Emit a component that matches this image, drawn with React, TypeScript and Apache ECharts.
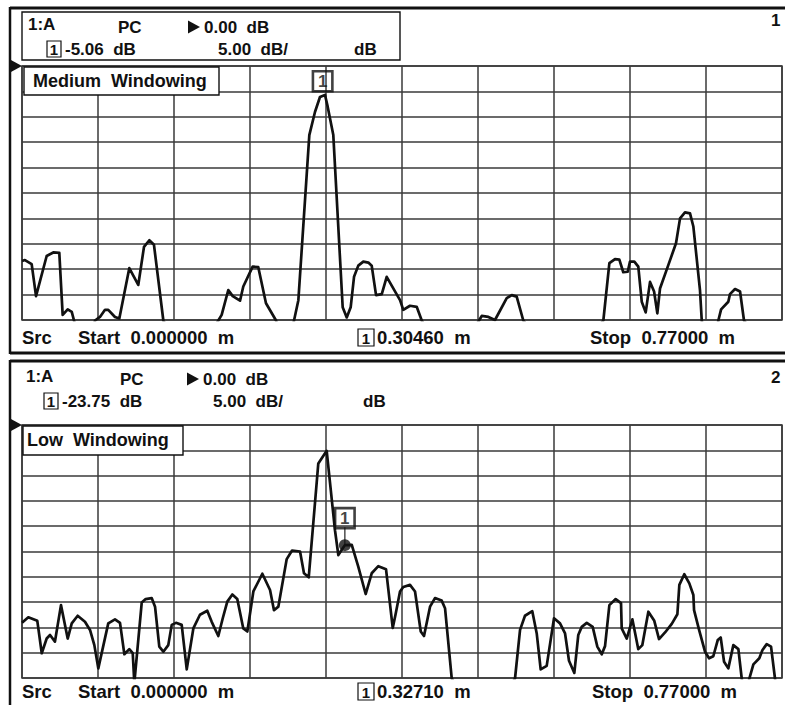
import React, { useEffect, useRef } from "react";
import * as echarts from "echarts";

// ---------- data (distance in metres, level in dB) ----------
const topDistance = [
  0.0, 0.003, 0.0098, 0.0142, 0.025, 0.0317, 0.0378, 0.0412, 0.0463, 0.0504, 0.0527, 0.0633,
  0.074, 0.079, 0.0841, 0.0874, 0.0942, 0.0986, 0.1087, 0.1178, 0.1236, 0.129, 0.1337, 0.1432,
  0.1702, 0.1989, 0.2023, 0.209, 0.2135, 0.2209, 0.2242, 0.2337, 0.2394, 0.2472, 0.2574, 0.2665,
  0.2756, 0.28, 0.2911, 0.2969, 0.3019, 0.307, 0.3097, 0.3154, 0.3249, 0.329, 0.333, 0.3364,
  0.3407, 0.3458, 0.3509, 0.3543, 0.3587, 0.3645, 0.3695, 0.383, 0.3863, 0.3931, 0.3999, 0.405,
  0.4336, 0.463, 0.4658, 0.4725, 0.4792, 0.4911, 0.4962, 0.5012, 0.5079, 0.5481, 0.589, 0.5951,
  0.6008, 0.6052, 0.6092, 0.6137, 0.616, 0.6204, 0.6244, 0.6279, 0.6319, 0.6363, 0.6404, 0.6437,
  0.6464, 0.6548, 0.6626, 0.6667, 0.6717, 0.6768, 0.6802, 0.6869, 0.6887, 0.6971, 0.7055, 0.7083,
  0.7156, 0.7173, 0.7224, 0.7275, 0.7315, 0.77,
];
const topLevel = [
  -38.4, -38.2, -39.0, -45.3, -37.4, -36.7, -36.8, -49.0, -47.9, -48.4, -50.1, -60,
  -50.1, -49.4, -48.0, -48.0, -49.4, -49.7, -39.8, -43.1, -35.6, -34.3, -35.2, -50.1,
  -60, -50.1, -49.0, -44.1, -45.3, -46.2, -43.4, -39.5, -39.6, -46.7, -50.1, -58,
  -50.1, -46.1, -13.6, -9.0, -6.1, -5.7, -8.0, -13.6, -47.5, -49.5, -47.5, -41.5,
  -39.3, -38.5, -38.7, -39.3, -45.1, -44.9, -41.5, -46.1, -48.0, -47.2, -47.4, -50.1,
  -60, -50.1, -49.2, -49.4, -50.0, -45.7, -45.1, -45.4, -50.1, -60, -50.1, -38.8,
  -38.0, -38.1, -40.6, -40.5, -38.5, -38.5, -39.5, -46.4, -48.5, -42.5, -44.4, -48.7,
  -43.8, -39.2, -34.9, -30.0, -28.8, -29.0, -31.6, -44.1, -50.1, -60, -50.1, -47.9,
  -46.4, -44.9, -43.9, -44.4, -50.1, -60,
];

const bottomDistance = [
  0.0, 0.0064, 0.0155, 0.02, 0.025, 0.0284, 0.0334, 0.0395, 0.0463, 0.0504, 0.0564, 0.0638,
  0.0689, 0.0733, 0.0773, 0.0874, 0.0942, 0.0993, 0.1037, 0.1087, 0.1122, 0.1138, 0.1213, 0.1253,
  0.1314, 0.1348, 0.1391, 0.1432, 0.1482, 0.1517, 0.156, 0.1618, 0.1669, 0.1736, 0.1803, 0.1877,
  0.1922, 0.1989, 0.2034, 0.208, 0.2131, 0.2181, 0.2242, 0.2283, 0.2344, 0.2435, 0.2513, 0.2553,
  0.2597, 0.2682, 0.2736, 0.2817, 0.2857, 0.2905, 0.3002, 0.3087, 0.3171, 0.3205, 0.3255, 0.3271,
  0.3341, 0.3407, 0.3482, 0.3543, 0.361, 0.3688, 0.3756, 0.3784, 0.383, 0.3863, 0.3931, 0.3982,
  0.404, 0.4073, 0.4134, 0.4184, 0.4252, 0.4286, 0.4354, 0.4671, 0.4995, 0.5046, 0.5096, 0.517,
  0.5215, 0.5255, 0.5316, 0.539, 0.5451, 0.5502, 0.5542, 0.5596, 0.5636, 0.5671, 0.5722, 0.5782,
  0.5829, 0.5874, 0.5907, 0.5951, 0.6015, 0.6069, 0.6076, 0.6127, 0.6184, 0.6244, 0.6285, 0.6346,
  0.6406, 0.6454, 0.6515, 0.6583, 0.664, 0.666, 0.671, 0.6761, 0.6802, 0.6809, 0.686, 0.692,
  0.6961, 0.7004, 0.7049, 0.7079, 0.7113, 0.7156, 0.7207, 0.7258, 0.7292, 0.7331, 0.7369, 0.741,
  0.747, 0.7501, 0.7545, 0.7589, 0.7629, 0.77,
];
const bottomLevel = [
  -39.1, -38.0, -38.7, -45.1, -42.2, -41.5, -42.8, -35.6, -42.2, -39.2, -37.7, -38.9,
  -40.5, -43.5, -48.1, -39.2, -38.4, -39.1, -45.3, -44.3, -45.1, -51.0, -35.1, -34.4,
  -34.2, -35.9, -43.8, -44.8, -43.5, -39.5, -39.1, -39.5, -48.3, -40.2, -37.5, -36.7,
  -38.9, -41.7, -38.2, -34.9, -33.5, -34.4, -40.2, -40.8, -32.9, -29.4, -32.6, -36.6,
  -35.9, -26.5, -24.8, -25.0, -29.3, -30.1, -7.6, -5.1, -20.8, -25.7, -24.2, -23.75,
  -23.7, -28.0, -33.4, -29.3, -27.9, -28.5, -40.1, -37.5, -32.9, -32.0, -31.6, -32.9,
  -40.8, -41.7, -35.9, -34.2, -34.7, -36.2, -50.1, -60, -50.1, -40.5, -37.7, -36.8,
  -41.2, -48.3, -47.6, -38.2, -39.2, -41.2, -46.6, -49.0, -41.5, -39.9, -39.1, -39.9,
  -43.8, -45.3, -43.7, -35.6, -34.4, -35.2, -40.2, -42.2, -38.4, -44.3, -43.5, -36.9,
  -38.7, -42.3, -41.0, -39.3, -37.4, -31.6, -29.5, -31.3, -33.6, -36.6, -40.5, -44.8,
  -46.1, -45.7, -42.5, -42.0, -46.8, -48.1, -43.5, -44.3, -50.1, -55, -50.1, -47.3,
  -46.1, -44.5, -43.3, -43.8, -50.1, -60,
];

// markers [distance m, level dB]
const topMarker = [0.3046, -5.06];
const bottomMarker = [0.3271, -23.75];

// axis ranges
const xRange = [0, 0.77];
const xStep = 0.077;
const yRange = [-50, 0];
const yStep = 5;

// texts
const topHeader = ["1:A", "PC", "0.00  dB", "-5.06  dB", "5.00  dB/", "dB"];
const bottomHeader = ["1:A", "PC", "0.00  dB", "-23.75  dB", "5.00  dB/", "dB"];
const topTitle = "Medium  Windowing";
const bottomTitle = "Low  Windowing";
const topFooter = ["Src", "Start  0.000000  m", "0.30460  m", "Stop  0.77000  m"];
const bottomFooter = ["Src", "Start  0.000000  m", "0.32710  m", "Stop  0.77000  m"];
const channelNumbers = ["1", "2"];

// ---------- styling ----------
const INK = "#111111";
const GRIDC = "#3a3a3a";
const FAM = "'Liberation Sans', Arial, Helvetica, sans-serif";

function txt(text: string, x: number, baseline: number, size: number, extra: any = {}) {
  return {
    type: "text",
    x,
    y: baseline - 0.35 * size,
    z: 20,
    silent: true,
    style: {
      text,
      fill: INK,
      font: `bold ${size}px ${FAM}`,
      align: "left",
      verticalAlign: "middle",
      textAlign: "left",
      textVerticalAlign: "middle",
      ...extra,
    },
  };
}
function rect(x: number, y: number, w: number, h: number, fill: string, lw = 1.3) {
  return {
    type: "rect",
    z: 19,
    silent: true,
    shape: { x, y, width: w, height: h },
    style: { fill, stroke: INK, lineWidth: lw },
  };
}
function boxedOne(x: number, y: number, w: number, h: number, size: number) {
  return [
    rect(x, y, w, h, "none", 1.2),
    {
      type: "text",
      x: x + w / 2,
      y: y + h / 2 + 0.5,
      z: 20,
      silent: true,
      style: {
        text: "1",
        fill: INK,
        font: `bold ${size}px ${FAM}`,
        align: "center",
        verticalAlign: "middle",
        textAlign: "center",
        textVerticalAlign: "middle",
      },
    },
  ];
}
function ln(x1: number, y1: number, x2: number, y2: number, lw: number) {
  return {
    type: "line",
    z: 20,
    silent: true,
    shape: { x1, y1, x2, y2 },
    style: { stroke: INK, lineWidth: lw },
  };
}
function tri(x: number, yc: number, w: number, h: number) {
  return {
    type: "polygon",
    z: 20,
    silent: true,
    shape: { points: [[x, yc - h / 2], [x + w, yc], [x, yc + h / 2]] },
    style: { fill: INK },
  };
}

function headerTexts(h: string[], dy: number, xs: number[]) {
  return [
    txt(h[0], xs[0], 30 + dy, 17),
    txt(h[1], xs[1], 33 + dy, 17),
    tri(xs[2], 27 + dy, 12, 13),
    txt(h[2], xs[2] + 16, 33 + dy, 17),
    ...boxedOne(xs[3], 41 + dy, 14, 16, 15),
    txt(h[3], xs[3] + 18, 55 + dy, 17),
    txt(h[4], xs[4], 55 + dy, 17),
    txt(h[5], xs[5], 55 + dy, 17),
  ];
}
function footerTexts(f: string[], baseline: number, stopX: number) {
  return [
    txt(f[0], 22, baseline, 18.5),
    txt(f[1], 78, baseline, 18.5),
    ...boxedOne(358, baseline - 15, 16, 17, 15),
    txt(f[2], 377, baseline, 18.5),
    txt(f[3], stopX, baseline, 18.5),
  ];
}

function buildOption() {
  const topData = topDistance.map((d, i) => [d, topLevel[i]]);
  const bottomData = bottomDistance.map((d, i) => [d, bottomLevel[i]]);

  const gridBase = {
    left: 22,
    width: 760,
    show: true,
    borderColor: GRIDC,
    borderWidth: 1.5,
    backgroundColor: "transparent",
    containLabel: false,
  };
  const xAx = (gi: number) => ({
    type: "value",
    gridIndex: gi,
    min: xRange[0],
    max: xRange[1],
    interval: xStep,
    axisLine: { show: false },
    axisTick: { show: false },
    axisLabel: { show: false },
    splitLine: { show: true, lineStyle: { color: GRIDC, width: 1.5 } },
  });
  const yAx = (gi: number) => ({
    type: "value",
    gridIndex: gi,
    min: yRange[0],
    max: yRange[1],
    interval: yStep,
    axisLine: { show: false },
    axisTick: { show: false },
    axisLabel: { show: false },
    splitLine: { show: true, lineStyle: { color: GRIDC, width: 1.5 } },
  });
  const trace = (gi: number, data: number[][]) => ({
    type: "line",
    xAxisIndex: gi,
    yAxisIndex: gi,
    data,
    symbol: "none",
    showSymbol: false,
    clip: true,
    silent: true,
    z: 3,
    lineStyle: { color: INK, width: 2.7, join: "round" },
  });
  const boxLabel = (distance: number) => ({
    show: true,
    position: "top",
    distance,
    formatter: "1",
    color: INK,
    fontSize: 17,
    fontWeight: "bold",
    fontFamily: FAM,
    lineHeight: 17,
    borderColor: INK,
    borderWidth: 1.3,
    padding: [2, 5, 1, 5],
    backgroundColor: "rgba(255,255,255,0)",
  });

  const graphic: any[] = [
    // frames
    ln(10, 8, 785, 8, 3),
    ln(10, 7, 10, 354, 2.5),
    ln(10, 353, 785, 353, 3),
    ln(10, 361, 785, 361, 3),
    ln(10, 360, 10, 705, 2.5),
    // reference-level arrows
    tri(10, 66, 12, 13),
    tri(10, 425, 12, 13),
    // top header box
    rect(22, 12, 378, 48, "none", 1.4),
    ...headerTexts(topHeader, 0, [28, 118, 188, 47, 218, 354]),
    ...headerTexts(bottomHeader, 352, [26, 120, 187, 44, 213, 363]),
    // titles
    rect(24, 67, 195, 28, "#ffffff", 1.4),
    txt(topTitle, 33, 87, 18),
    rect(23, 426, 160, 29, "#ffffff", 1.4),
    txt(bottomTitle, 27, 446, 18),
    // footers
    ...footerTexts(topFooter, 344, 590),
    ...footerTexts(bottomFooter, 698, 592),
    // channel numbers at right edge
    txt(channelNumbers[0], 771, 26, 17),
    txt(channelNumbers[1], 771, 383, 17),
  ];

  return {
    animation: false,
    backgroundColor: "#ffffff",
    grid: [
      { ...gridBase, top: 66, height: 254 },
      { ...gridBase, top: 425, height: 253 },
    ],
    xAxis: [xAx(0), xAx(1)],
    yAxis: [yAx(0), yAx(1)],
    series: [
      trace(0, topData),
      {
        type: "scatter",
        xAxisIndex: 0,
        yAxisIndex: 0,
        data: [topMarker],
        symbolSize: 1,
        itemStyle: { color: "rgba(0,0,0,0)" },
        silent: true,
        z: 5,
        label: boxLabel(0),
      },
      trace(1, bottomData),
      {
        type: "scatter",
        xAxisIndex: 1,
        yAxisIndex: 1,
        data: [bottomMarker],
        symbol: "rect",
        symbolSize: [1.4, 18],
        symbolOffset: [0, -9],
        itemStyle: { color: INK },
        silent: true,
        z: 4,
      },
      {
        type: "scatter",
        xAxisIndex: 1,
        yAxisIndex: 1,
        data: [bottomMarker],
        symbol: "circle",
        symbolSize: 12,
        itemStyle: { color: INK },
        silent: true,
        z: 5,
        label: boxLabel(11),
      },
    ],
    graphic,
  };
}

export default function App() {
  const ref = useRef<HTMLDivElement>(null);
  useEffect(() => {
    if (!ref.current) return;
    const chart = echarts.init(ref.current, undefined, { renderer: "svg" });
    chart.setOption(buildOption() as any);
    return () => chart.dispose();
  }, []);
  return (
    <div
      ref={ref}
      style={{ position: "absolute", left: 0, top: 0, width: 785, height: 705, background: "#fff" }}
    />
  );
}
